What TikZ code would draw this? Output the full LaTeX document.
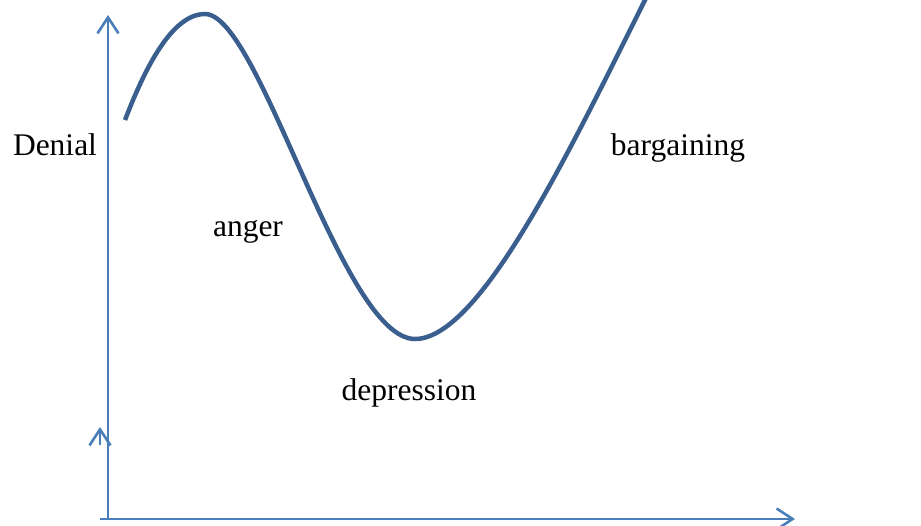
\documentclass[tikz,border=0pt]{standalone}
\usepackage{fontspec}
\setmainfont{Liberation Serif}
\usetikzlibrary{arrows.meta}
\definecolor{axisblue}{HTML}{4A7EBB}
\definecolor{curveblue}{HTML}{3A5E8E}
\tikzset{
  axis/.style={draw=axisblue, line width=2.8pt,
    -{Straight Barb[length=16pt, width=21pt, line width=2.6pt]}},
  curve/.style={draw=curveblue, line width=4.5pt},
  lbl/.style={font=\fontsize{31.5}{36}\selectfont, inner sep=0pt, anchor=base}
}
\begin{document}
\begin{tikzpicture}[x=1pt, y=-1pt]
  \useasboundingbox (0,0) rectangle (921,525);
  \clip (0,0) rectangle (921,525);
  \coordinate (origin) at (108,519);
  \coordinate (ytop) at (108,15);
  \coordinate (xleft) at (100,519);
  \coordinate (xright) at (795,519);
  \coordinate (sbot) at (100,445);
  \coordinate (stop) at (100,427);
  \coordinate (cstart) at (125,120);
  \coordinate (cpeak) at (205,14);
  \coordinate (cmin) at (415,339);
  \coordinate (cexit) at (645,0);
  \coordinate (cend) at (660,-28);
  \draw[axis] (origin) -- (ytop);
  \draw[axis] (xleft) -- (xright);
  \draw[axis] (sbot) -- (stop);
  \draw[curve] (cstart) .. controls (145,68) and (172,14) .. (cpeak)
    .. controls (260,14) and (342,339) .. (cmin)
    .. controls (480,339) and (570,150) .. (cexit) -- (cend);
  \node[lbl] (denial) at (55,155) {Denial};
  \node[lbl] (anger) at (248,236) {anger};
  \node[lbl] (depression) at (409,400) {depression};
  \node[lbl] (bargaining) at (678,155) {bargaining};
\end{tikzpicture}
\end{document}
